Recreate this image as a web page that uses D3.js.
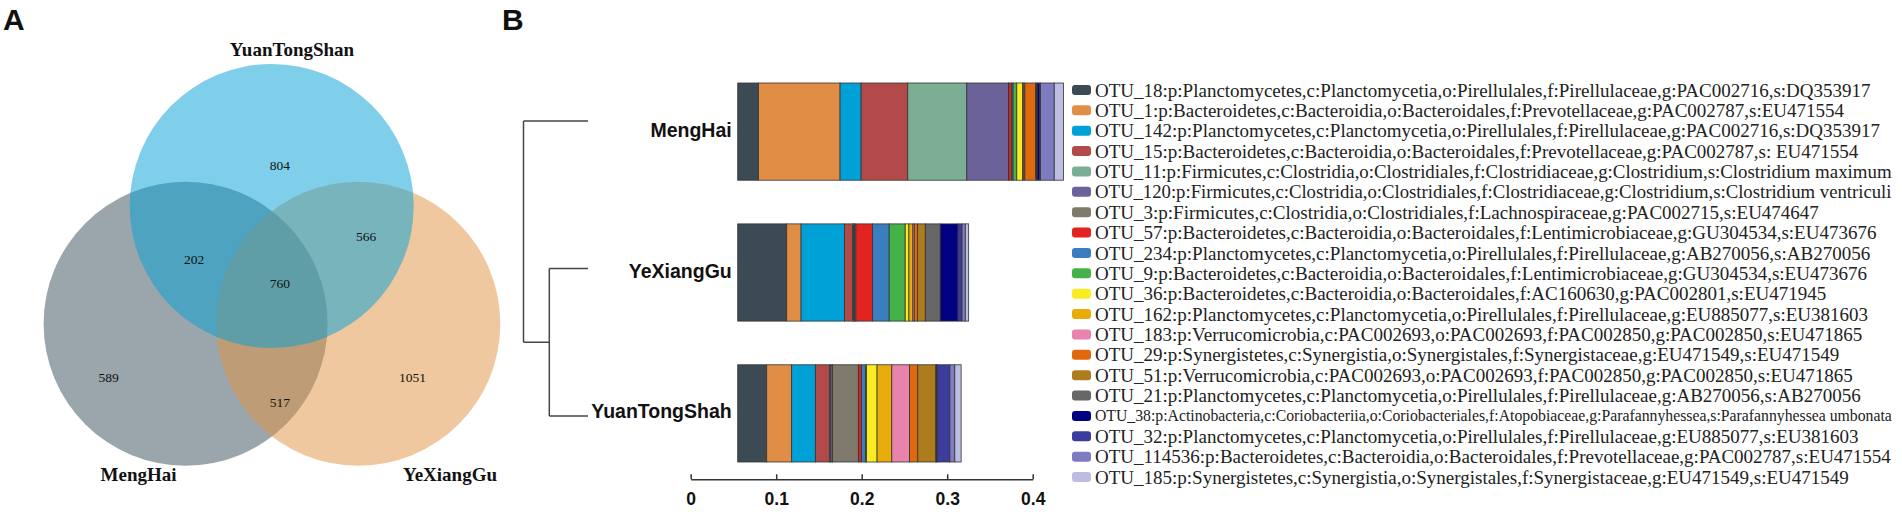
<!DOCTYPE html>
<html><head><meta charset="utf-8">
<script src="https://cdn.jsdelivr.net/npm/d3@7/dist/d3.min.js"></script>
<style>
html,body{margin:0;padding:0;background:#fff;}
svg{display:block;}
</style></head>
<body>
<svg id="chart" width="1902" height="515"></svg>
<script>
// ---------------- DATA ----------------
// Panel A: Venn counts
const vennSetNames = ["MengHai", "YeXiangGu", "YuanTongShan"];
const vennRegions = ["MengHai only", "YeXiangGu only", "YuanTongShan only",
  "MengHai∩YeXiangGu", "MengHai∩YuanTongShan", "YeXiangGu∩YuanTongShan", "all"];
const vennCounts = [589, 1051, 804, 517, 202, 566, 760];

// Panel B: samples, dendrogram and OTU relative abundance
const samples = ["MengHai", "YeXiangGu", "YuanTongShah"];
const dendroMergeHeights = [1.0, 0.6];   // root (MengHai | rest), inner (YeXiangGu,YuanTongShah)
const barBase = 0.055;                    // bars start here on the axis
const axisTicks = [0, 0.1, 0.2, 0.3, 0.4];
const otuLabels = [
 "OTU_18:p:Planctomycetes,c:Planctomycetia,o:Pirellulales,f:Pirellulaceae,g:PAC002716,s:DQ353917",
 "OTU_1:p:Bacteroidetes,c:Bacteroidia,o:Bacteroidales,f:Prevotellaceae,g:PAC002787,s:EU471554",
 "OTU_142:p:Planctomycetes,c:Planctomycetia,o:Pirellulales,f:Pirellulaceae,g:PAC002716,s:DQ353917",
 "OTU_15:p:Bacteroidetes,c:Bacteroidia,o:Bacteroidales,f:Prevotellaceae,g:PAC002787,s: EU471554",
 "OTU_11:p:Firmicutes,c:Clostridia,o:Clostridiales,f:Clostridiaceae,g:Clostridium,s:Clostridium maximum",
 "OTU_120:p:Firmicutes,c:Clostridia,o:Clostridiales,f:Clostridiaceae,g:Clostridium,s:Clostridium ventriculi",
 "OTU_3:p:Firmicutes,c:Clostridia,o:Clostridiales,f:Lachnospiraceae,g:PAC002715,s:EU474647",
 "OTU_57:p:Bacteroidetes,c:Bacteroidia,o:Bacteroidales,f:Lentimicrobiaceae,g:GU304534,s:EU473676",
 "OTU_234:p:Planctomycetes,c:Planctomycetia,o:Pirellulales,f:Pirellulaceae,g:AB270056,s:AB270056",
 "OTU_9:p:Bacteroidetes,c:Bacteroidia,o:Bacteroidales,f:Lentimicrobiaceae,g:GU304534,s:EU473676",
 "OTU_36:p:Bacteroidetes,c:Bacteroidia,o:Bacteroidales,f:AC160630,g:PAC002801,s:EU471945",
 "OTU_162:p:Planctomycetes,c:Planctomycetia,o:Pirellulales,f:Pirellulaceae,g:EU885077,s:EU381603",
 "OTU_183:p:Verrucomicrobia,c:PAC002693,o:PAC002693,f:PAC002850,g:PAC002850,s:EU471865",
 "OTU_29:p:Synergistetes,c:Synergistia,o:Synergistales,f:Synergistaceae,g:EU471549,s:EU471549",
 "OTU_51:p:Verrucomicrobia,c:PAC002693,o:PAC002693,f:PAC002850,g:PAC002850,s:EU471865",
 "OTU_21:p:Planctomycetes,c:Planctomycetia,o:Pirellulales,f:Pirellulaceae,g:AB270056,s:AB270056",
 "OTU_38:p:Actinobacteria,c:Coriobacteriia,o:Coriobacteriales,f:Atopobiaceae,g:Parafannyhessea,s:Parafannyhessea umbonata",
 "OTU_32:p:Planctomycetes,c:Planctomycetia,o:Pirellulales,f:Pirellulaceae,g:EU885077,s:EU381603",
 "OTU_114536:p:Bacteroidetes,c:Bacteroidia,o:Bacteroidales,f:Prevotellaceae,g:PAC002787,s:EU471554",
 "OTU_185:p:Synergistetes,c:Synergistia,o:Synergistales,f:Synergistaceae,g:EU471549,s:EU471549"
];
const valuesMengHai = [0.0242,0.0955,0.0246,0.0546,0.0690,0.0487,0.0004,0.0035,0.0016,0.0043,
                       0.0066,0.0016,0.0012,0.0125,0.0012,0.0008,0.0027,0.0012,0.0160,0.0109];
const valuesYeXiangGu = [0.0573,0.0168,0.0507,0.0094,0.0012,0.0012,0.0016,0.0195,0.0195,0.0187,
                         0.0043,0.0047,0.0016,0.0039,0.0090,0.0175,0.0207,0.0047,0.0039,0.0039];
const valuesYuanTongShah = [0.0339,0.0292,0.0277,0.0164,0.0016,0.0019,0.0304,0.0035,0.0047,0.0012,
                            0.0125,0.0172,0.0207,0.0097,0.0211,0.0008,0.0008,0.0148,0.0058,0.0074];

// ---------------- STYLE ----------------
const otuColors = ["#3c4b53","#e08e45","#00a1d7","#b34a4a","#7cae96","#6a6298","#7f7a6b","#e3231f",
  "#3a7ebf","#45b149","#fbec22","#e9ad0b","#e883ad","#e0690e","#ae7b1d","#676767","#000080",
  "#3b3c9c","#7f7bc0","#bcbde0"];
const vennFill = {MengHai:"#354d57", YeXiangGu:"#e19141", YuanTongShan:"#00a0d6"};
const SANS = "'Liberation Sans', Arial, sans-serif";
const SERIF = "'Liberation Serif', 'Times New Roman', serif";

const svg = d3.select("#chart");

// ---------------- PANEL A: Venn ----------------
const venn = {
  r: 142,
  centers: {MengHai:[185.6,323.8], YeXiangGu:[358.3,323.8], YuanTongShan:[271.7,206]},
  labelPos: {MengHai:[138.6,481], YeXiangGu:[450,481], YuanTongShan:[292,56]},
  countPos: [[108.6,377.7],[412.6,377.7],[279.9,165.7],[279.9,402.3],[194.2,259.3],[366.2,236],[279.9,283.3]]
};
const gA = svg.append("g");
gA.selectAll("circle").data(vennSetNames).join("circle")
  .attr("cx", d => venn.centers[d][0]).attr("cy", d => venn.centers[d][1])
  .attr("r", venn.r).attr("fill", d => vennFill[d]).attr("fill-opacity", 0.5);
gA.selectAll("text.setlab").data(vennSetNames).join("text").attr("class","setlab")
  .attr("x", d => venn.labelPos[d][0]).attr("y", d => venn.labelPos[d][1])
  .attr("text-anchor","middle").style("font-family",SERIF).style("font-weight","bold")
  .style("font-size","19px").attr("fill","#111").text(d => d);
gA.selectAll("text.cnt").data(vennCounts).join("text").attr("class","cnt")
  .attr("x", (d,i) => venn.countPos[i][0]).attr("y", (d,i) => venn.countPos[i][1])
  .attr("dy","0.35em").attr("text-anchor","middle").style("font-family",SERIF)
  .style("font-size","13.5px").attr("fill","#111").text(d => d);

svg.append("text").attr("x",3).attr("y",30).style("font-family",SANS).style("font-weight","bold")
  .style("font-size","30px").attr("fill","#111").text("A");
svg.append("text").attr("x",502).attr("y",30).style("font-family",SANS).style("font-weight","bold")
  .style("font-size","30px").attr("fill","#111").text("B");

// ---------------- PANEL B ----------------
const x = d3.scaleLinear().domain([0, 0.4]).range([690.7, 1032.7]);
const y = d3.scaleBand().domain(samples).range([83, 462]).paddingInner(0.31);
const leafY = d3.scalePoint().domain(samples).range([121, 416]);
const dx = d3.scaleLinear().domain([1, 0]).range([523.5, 588]);

const sampleValues = {MengHai: valuesMengHai, YeXiangGu: valuesYeXiangGu, YuanTongShah: valuesYuanTongShah};
const rows = samples.map(s => {
  const o = {sample: s};
  otuLabels.forEach((l, i) => o[i] = sampleValues[s][i]);
  return o;
});
const keys = otuLabels.map((l, i) => i);
const series = d3.stack().keys(keys)(rows);

const gB = svg.append("g");
gB.selectAll("g.series").data(series).join("g").attr("class","series")
  .attr("fill", d => otuColors[d.key])
  .selectAll("rect").data(d => d).join("rect")
  .attr("x", d => x(barBase + d[0]))
  .attr("width", d => x(barBase + d[1]) - x(barBase + d[0]))
  .attr("y", d => y(d.data.sample)).attr("height", y.bandwidth())
  .attr("stroke", "#333").attr("stroke-width", 0.8);

// sample labels
gB.selectAll("text.samp").data(samples).join("text").attr("class","samp")
  .attr("x", x(barBase) - 6).attr("y", d => y(d) + y.bandwidth()/2 + 5)
  .attr("text-anchor","end").style("font-family",SANS).style("font-weight","bold")
  .style("font-size","19.5px").attr("fill","#111").text(d => d);

// dendrogram
const rootH = dendroMergeHeights[0], innerH = dendroMergeHeights[1];
const innerY = (leafY(samples[1]) + leafY(samples[2])) / 2;
const dendroSegs = [
  [[dx(rootH), leafY(samples[0])], [dx(rootH), innerY]],
  [[dx(rootH), leafY(samples[0])], [dx(0), leafY(samples[0])]],
  [[dx(rootH), innerY], [dx(innerH), innerY]],
  [[dx(innerH), leafY(samples[1])], [dx(innerH), leafY(samples[2])]],
  [[dx(innerH), leafY(samples[1])], [dx(0), leafY(samples[1])]],
  [[dx(innerH), leafY(samples[2])], [dx(0), leafY(samples[2])]]
];
gB.selectAll("path.dendro").data(dendroSegs).join("path").attr("class","dendro")
  .attr("d", d => d3.line()(d)).attr("stroke","#444").attr("stroke-width",1.5).attr("fill","none");

// axis
const axisG = gB.append("g").attr("transform","translate(0,479.3)")
  .call(d3.axisBottom(x).tickValues(axisTicks).tickFormat(d => d === 0 ? "0" : d3.format(".1f")(d))
        .tickSizeInner(-5).tickSizeOuter(0).tickPadding(13.3));
axisG.select(".domain").attr("stroke","#333").attr("stroke-width",1.5);
axisG.selectAll(".tick line").attr("stroke","#333").attr("stroke-width",1.5);
axisG.selectAll(".tick text").style("font-family",SANS).style("font-weight","bold")
  .style("font-size","17.5px").attr("fill","#111");

// legend
const legY = d3.scalePoint().domain(keys).range([90, 477]);
const legTextX = 1095, legMaxW = 1892 - legTextX, legFont = 19;
const leg = gB.selectAll("g.leg").data(keys).join("g").attr("class","leg")
  .attr("transform", d => `translate(1072,${legY(d)})`);
leg.append("rect").attr("x",0).attr("y",-5).attr("width",19).attr("height",10).attr("rx",3)
  .attr("fill", d => otuColors[d]);
leg.append("text").attr("x",legTextX - 1072).attr("dy","0.35em").style("font-family",SERIF)
  .style("font-size", legFont + "px").attr("fill","#222").text(d => otuLabels[d])
  .each(function() {
    const w = this.getComputedTextLength();
    if (w > legMaxW) d3.select(this).style("font-size", (legFont * legMaxW / w).toFixed(2) + "px");
  });
</script>
</body></html>
